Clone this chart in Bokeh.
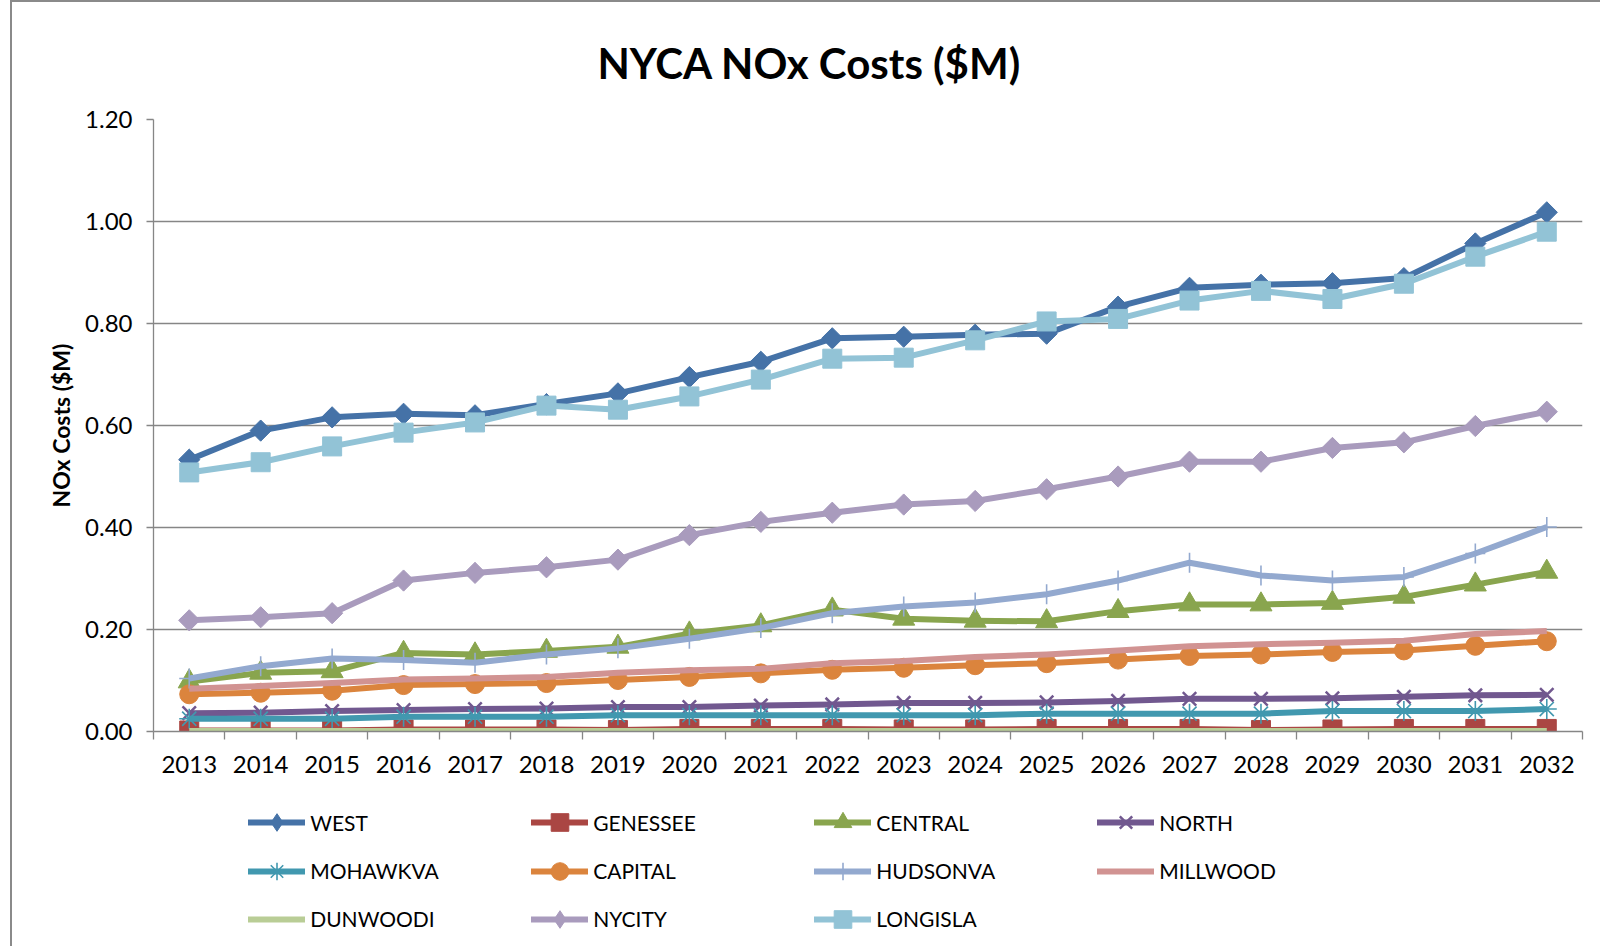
import math
from bokeh.plotting import figure
from bokeh.layouts import column
from bokeh.models import FixedTicker, NumeralTickFormatter, Legend, LegendItem, Range1d
from bokeh.embed import file_html
from bokeh.resources import INLINE

years = list(range(2013, 2033))

west = [0.533, 0.590, 0.616, 0.623, 0.620, 0.642, 0.663, 0.695, 0.725, 0.771,
        0.774, 0.778, 0.780, 0.833, 0.870, 0.876, 0.879, 0.889, 0.957, 1.018]
genessee = [0.002, 0.002, 0.002, 0.004, 0.004, 0.004, 0.003, 0.005, 0.005, 0.005,
            0.004, 0.004, 0.005, 0.005, 0.005, 0.003, 0.004, 0.005, 0.005, 0.005]
central = [0.098, 0.115, 0.118, 0.154, 0.151, 0.158, 0.166, 0.192, 0.208, 0.239,
           0.221, 0.217, 0.216, 0.236, 0.249, 0.249, 0.252, 0.264, 0.288, 0.313]
north = [0.036, 0.037, 0.040, 0.042, 0.044, 0.045, 0.048, 0.048, 0.051, 0.053,
         0.056, 0.056, 0.057, 0.060, 0.064, 0.064, 0.065, 0.068, 0.071, 0.072]
mohawkva = [0.025, 0.025, 0.025, 0.029, 0.029, 0.029, 0.032, 0.032, 0.032, 0.032,
            0.032, 0.032, 0.035, 0.035, 0.035, 0.035, 0.040, 0.040, 0.040, 0.044]
capital = [0.073, 0.076, 0.080, 0.091, 0.093, 0.095, 0.101, 0.107, 0.114, 0.121,
           0.125, 0.130, 0.134, 0.141, 0.148, 0.151, 0.156, 0.159, 0.168, 0.177]
hudsonva = [0.104, 0.128, 0.143, 0.140, 0.135, 0.151, 0.163, 0.182, 0.203, 0.232,
            0.245, 0.253, 0.269, 0.296, 0.331, 0.306, 0.296, 0.303, 0.349, 0.401]
millwood = [0.084, 0.089, 0.095, 0.102, 0.104, 0.107, 0.115, 0.120, 0.123, 0.134,
            0.138, 0.146, 0.151, 0.159, 0.167, 0.171, 0.174, 0.178, 0.191, 0.197]
dunwoodi = [0.001, 0.001, 0.001, 0.001, 0.001, 0.001, 0.001, 0.001, 0.001, 0.001,
            0.001, 0.001, 0.001, 0.001, 0.001, 0.001, 0.001, 0.001, 0.001, 0.001]
nycity = [0.218, 0.224, 0.232, 0.296, 0.311, 0.322, 0.337, 0.385, 0.411, 0.429,
          0.445, 0.452, 0.475, 0.500, 0.529, 0.529, 0.556, 0.567, 0.599, 0.627]
longisla = [0.508, 0.528, 0.559, 0.586, 0.606, 0.639, 0.631, 0.657, 0.690, 0.731,
            0.733, 0.767, 0.804, 0.809, 0.845, 0.864, 0.848, 0.878, 0.931, 0.980]

y_ticks = [0.0, 0.2, 0.4, 0.6, 0.8, 1.0, 1.2]

FONT = "Lato"
GRID = "#868686"

# name, values, color, plot marker, size, angle, marker line width, legend marker
series = [
    ("WEST", west, "#4572A7", "square", 15, math.pi / 4, 1, "diamond"),
    ("GENESSEE", genessee, "#AA4643", "square", 19, 0, 1, "square"),
    ("CENTRAL", central, "#89A54E", "triangle", 22, 0, 1, "triangle"),
    ("NORTH", north, "#71588F", "x", 19, 0, 2.5, "x"),
    ("MOHAWKVA", mohawkva, "#4198AF", "asterisk", 20, 0, 1.6, "asterisk"),
    ("CAPITAL", capital, "#DB843D", "circle", 19, 0, 1, "circle"),
    ("HUDSONVA", hudsonva, "#93A9CF", "cross", 20, 0, 1.6, "cross"),
    ("MILLWOOD", millwood, "#D19392", None, 0, 0, 0, None),
    ("DUNWOODI", dunwoodi, "#B9CD96", None, 0, 0, 0, None),
    ("NYCITY", nycity, "#A99BBD", "square", 15, math.pi / 4, 1, "diamond"),
    ("LONGISLA", longisla, "#92C3D6", "square", 19, 0, 1, "square"),
]

OFF_X = 12   # page offset of the content (margin + border)
OFF_Y = 2
W = 1588
H1 = 790 - OFF_Y
H2 = 156

p = figure(width=W, height=H1, output_backend="svg", toolbar_location=None,
           x_range=Range1d(2012.5, 2032.5), y_range=Range1d(0, 1.2),
           min_border_left=153 - OFF_X, min_border_right=W - (1582 - OFF_X),
           min_border_top=119 - OFF_Y, min_border_bottom=H1 - (731 - OFF_Y))

p.title.text = "NYCA NOx Costs ($M)"
p.title.text_font = FONT
p.title.text_font_size = "42px"
p.title.text_font_style = "bold"
p.title.text_color = "#000000"
p.title.align = "left"
p.title.offset = 444
p.title.standoff = 64

p.outline_line_color = None
p.xgrid.grid_line_color = None
p.ygrid.grid_line_color = GRID
p.ygrid.grid_line_width = 1.3
p.ygrid.ticker = FixedTicker(ticks=y_ticks)

p.yaxis.ticker = FixedTicker(ticks=y_ticks)
p.yaxis.formatter = NumeralTickFormatter(format="0.00")
p.yaxis.axis_label = "NOx Costs ($M)"
p.yaxis.axis_label_text_font = FONT
p.yaxis.axis_label_text_font_size = "23px"
p.yaxis.axis_label_text_font_style = "bold"
p.yaxis.axis_label_text_color = "#000000"
p.yaxis.axis_label_standoff = 7
p.yaxis.major_tick_out = 7
p.yaxis.major_tick_in = 0
p.yaxis.minor_tick_out = 0
p.yaxis.minor_tick_in = 0
p.yaxis.major_label_standoff = 14

minor = [y - 0.5 for y in years] + [years[-1] + 0.5]
p.xaxis.ticker = FixedTicker(ticks=years, minor_ticks=minor)
p.xaxis.major_tick_out = 0
p.xaxis.major_tick_in = 0
p.xaxis.minor_tick_out = 8
p.xaxis.minor_tick_in = 0
p.xaxis.major_label_standoff = 16

for ax in (p.xaxis, p.yaxis):
    ax.axis_line_color = GRID
    ax.axis_line_width = 1.3
    ax.major_tick_line_color = GRID
    ax.major_tick_line_width = 1.3
    ax.minor_tick_line_color = GRID
    ax.minor_tick_line_width = 1.3
    ax.major_label_text_font = FONT
    ax.major_label_text_font_size = "24px"
    ax.major_label_text_color = "#000000"

# legend figure below the chart (its frame is aligned with the chart frame)
lf = figure(width=W, height=H2, output_backend="svg", toolbar_location=None,
            x_range=Range1d(0, 1), y_range=Range1d(0, 1),
            x_axis_location=None, y_axis_location=None,
            min_border_left=0, min_border_right=0, min_border_top=0,
            min_border_bottom=0)
lf.outline_line_color = None
lf.grid.visible = False

nan = float("nan")
items = []
for name, vals, color, marker, size, angle, lw, lmarker in series:
    p.line(years, vals, line_color=color, line_width=6, line_join="round")
    if marker is not None:
        p.scatter(years, vals, marker=marker, size=size, angle=angle,
                  fill_color=color, line_color=color, line_width=lw)
    rs = [lf.line([nan], [nan], line_color=color, line_width=6, line_cap="round")]
    if lmarker is not None:
        rs.append(lf.scatter([nan], [nan], marker=lmarker, size=size,
                             fill_color=color, line_color=color, line_width=lw))
    items.append(LegendItem(label=name, renderers=rs))

rows = [items[0:4], items[4:8], items[8:11]]
row_centers = [823.4, 871.5, 919.6]
LEG_H = 48
top_lf = OFF_Y + H1
for row, yc in zip(rows, row_centers):
    vy = H2 - (yc - top_lf + LEG_H / 2) + 3
    lg = Legend(items=row, orientation="horizontal", location=(95.2, vy),
                glyph_width=57, glyph_height=44, label_standoff=5, label_width=221,
                spacing=0, padding=2, margin=0, border_line_color=None,
                background_fill_alpha=0, label_text_font=FONT,
                label_text_font_size="21px", label_text_color="#000000")
    lf.add_layout(lg)

layout = column(p, lf, spacing=0,
                styles={"margin-left": "10px", "margin-top": "0px",
                        "border-left": "2px solid #8a8a8a",
                        "border-top": "2px solid #8a8a8a"})
open("out.html", "w").write(file_html(layout, INLINE))
